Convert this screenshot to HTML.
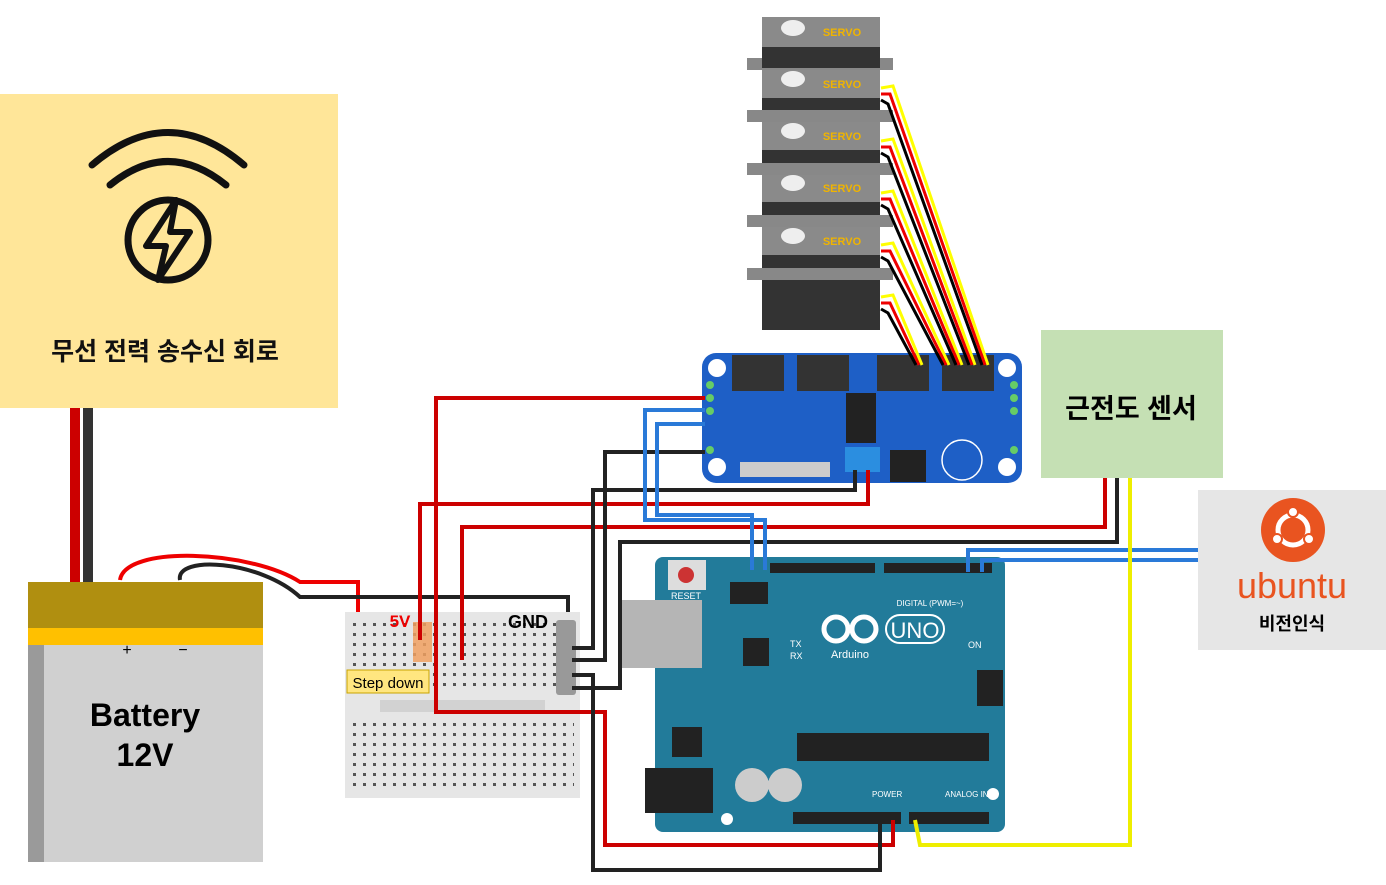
<!DOCTYPE html>
<html><head><meta charset="utf-8"><style>
body{margin:0;background:#fff;width:1386px;height:880px;overflow:hidden}
svg text{font-family:"Liberation Sans","Noto Sans CJK KR",sans-serif}
</style></head><body>
<svg width="1386" height="880" xmlns="http://www.w3.org/2000/svg">
<defs>
<pattern id="holes" width="10" height="10" patternUnits="userSpaceOnUse"><rect x="3" y="3" width="3" height="3" fill="#555"/></pattern>
</defs>
<!-- wireless box -->
<rect x="0" y="94" width="338" height="314" fill="#FFE699"/>
<g fill="none" stroke="#111" stroke-width="7" stroke-linecap="round">
<path d="M92,165 Q168,100 244,165"/>
<path d="M110,185 Q168,138 226,185"/>
<circle cx="168" cy="240" r="40"/>
</g>
<path d="M176,200 L146,246 L166,246 L158,280 L190,232 L170,232 Z" fill="none" stroke="#111" stroke-width="6" stroke-linejoin="round"/>
<text x="165" y="360" font-size="25" font-weight="bold" text-anchor="middle" fill="#111">무선 전력 송수신 회로</text>
<!-- wires from box to battery -->
<rect x="70" y="408" width="10" height="175" fill="#c00"/>
<rect x="83" y="408" width="10" height="175" fill="#333"/>
<!-- battery -->
<rect x="28" y="582" width="235" height="280" fill="#d0d0d0"/>
<rect x="28" y="582" width="16" height="280" fill="#9a9a9a"/>
<rect x="28" y="582" width="235" height="46" fill="#b08f10"/>
<rect x="28" y="628" width="235" height="17" fill="#ffc000"/>
<text x="127" y="655" font-size="16" text-anchor="middle">+</text>
<text x="183" y="655" font-size="16" text-anchor="middle">−</text>
<text x="145" y="726" font-size="32" font-weight="bold" text-anchor="middle">Battery</text>
<text x="145" y="766" font-size="32" font-weight="bold" text-anchor="middle">12V</text>
<!-- battery wires -->
<path d="M120,580 C125,545 250,550 300,582 L358,582 L358,622" fill="none" stroke="#e00" stroke-width="4"/>
<path d="M180,580 C175,555 260,560 300,597 L568,597 L568,625" fill="none" stroke="#222" stroke-width="4"/>
<!-- breadboard -->
<rect x="345" y="612" width="235" height="186" fill="#e6e6e6"/>
<rect x="352" y="620" width="222" height="72" fill="url(#holes)"/>
<rect x="352" y="718" width="222" height="72" fill="url(#holes)"/>
<rect x="380" y="700" width="165" height="12" fill="#d2d2d2"/>
<rect x="556" y="620" width="20" height="75" fill="#999" rx="3"/>
<text x="400" y="627" font-size="17" font-weight="bold" fill="#e00" text-anchor="middle">5V</text>
<text x="528" y="628" font-size="18" font-weight="bold" text-anchor="middle">GND</text>
<rect x="413" y="622" width="19" height="40" fill="#f0a060" opacity="0.85"/>
<rect x="347" y="670" width="82" height="23" fill="#ffe680" stroke="#c9a400"/>
<text x="388" y="688" font-size="15" text-anchor="middle">Step down</text>
<!-- Arduino -->
<rect x="655" y="557" width="350" height="275" rx="8" fill="#227b9a"/>
<rect x="622" y="600" width="80" height="68" fill="#b5b5b5"/>
<rect x="645" y="768" width="68" height="45" fill="#222"/>
<circle cx="752" cy="785" r="17" fill="#ccc"/><circle cx="785" cy="785" r="17" fill="#ccc"/>
<rect x="797" y="733" width="192" height="28" fill="#222"/>
<rect x="743" y="638" width="26" height="28" fill="#222"/>
<rect x="672" y="727" width="30" height="30" fill="#222"/>
<rect x="770" y="563" width="105" height="10" fill="#222"/>
<rect x="884" y="563" width="108" height="10" fill="#222"/>
<rect x="793" y="812" width="108" height="12" fill="#222"/>
<rect x="909" y="812" width="80" height="12" fill="#222"/>
<rect x="730" y="582" width="38" height="22" fill="#222"/>
<rect x="977" y="670" width="26" height="36" fill="#222"/>
<rect x="668" y="560" width="38" height="30" fill="#ddd"/><circle cx="686" cy="575" r="8" fill="#c33"/>
<text x="686" y="599" font-size="9" fill="#fff" text-anchor="middle">RESET</text>
<text x="930" y="606" font-size="8" fill="#fff" text-anchor="middle">DIGITAL (PWM=~)</text>
<text x="790" y="647" font-size="9" fill="#fff">TX</text><text x="790" y="659" font-size="9" fill="#fff">RX</text>
<g fill="none" stroke="#fff" stroke-width="5"><circle cx="836" cy="629" r="12"/><circle cx="864" cy="629" r="12"/></g>
<rect x="886" y="615" width="58" height="28" rx="14" fill="none" stroke="#fff" stroke-width="2"/>
<text x="915" y="638" font-size="22" fill="#fff" text-anchor="middle">UNO</text>
<text x="850" y="658" font-size="11" fill="#fff" text-anchor="middle">Arduino</text>
<text x="968" y="648" font-size="9" fill="#fff">ON</text>
<text x="945" y="797" font-size="8" fill="#fff">ANALOG IN</text>
<text x="872" y="797" font-size="8" fill="#fff">POWER</text>
<circle cx="727" cy="819" r="6" fill="#fff"/><circle cx="993" cy="794" r="6" fill="#fff"/>
<!-- PCA board -->
<rect x="702" y="353" width="320" height="130" rx="14" fill="#1e5fc6"/>
<g fill="#333"><rect x="732" y="355" width="52" height="36"/><rect x="797" y="355" width="52" height="36"/><rect x="877" y="355" width="52" height="36"/><rect x="942" y="355" width="52" height="36"/></g>
<g fill="#fff"><circle cx="717" cy="368" r="9"/><circle cx="1007" cy="368" r="9"/><circle cx="717" cy="467" r="9"/><circle cx="1007" cy="467" r="9"/></g>
<rect x="846" y="393" width="30" height="50" fill="#222"/>
<rect x="845" y="447" width="35" height="25" fill="#2b8ee0"/>
<rect x="890" y="450" width="36" height="32" fill="#222"/>
<circle cx="962" cy="460" r="20" fill="none" stroke="#fff" stroke-width="1.5"/>
<g fill="#ccc"><rect x="740" y="462" width="90" height="15"/></g>
<g fill="#6c6"><circle cx="710" cy="385" r="4"/><circle cx="710" cy="398" r="4"/><circle cx="710" cy="411" r="4"/><circle cx="710" cy="450" r="4"/><circle cx="1014" cy="385" r="4"/><circle cx="1014" cy="398" r="4"/><circle cx="1014" cy="411" r="4"/><circle cx="1014" cy="450" r="4"/></g>
<!-- servos -->
<g>
<rect x="762" y="225" width="118" height="105" fill="#333"/>
<rect x="747" y="268" width="146" height="12" fill="#888"/>
<rect x="762" y="225" width="118" height="30" fill="#8a8a8a"/>
<text x="842" y="245" font-size="11" font-weight="bold" fill="#f0b400" text-anchor="middle">SERVO</text>
<ellipse cx="793" cy="236" rx="12" ry="8" fill="#eee"/>
</g>
<g id="s">
</g>
<g>
<rect x="762" y="172" width="118" height="53" fill="#333"/><rect x="747" y="215" width="146" height="12" fill="#888"/>
<rect x="762" y="172" width="118" height="30" fill="#8a8a8a"/><text x="842" y="192" font-size="11" font-weight="bold" fill="#f0b400" text-anchor="middle">SERVO</text><ellipse cx="793" cy="183" rx="12" ry="8" fill="#eee"/>
<rect x="762" y="120" width="118" height="52" fill="#333"/><rect x="747" y="163" width="146" height="12" fill="#888"/>
<rect x="762" y="120" width="118" height="30" fill="#8a8a8a"/><text x="842" y="140" font-size="11" font-weight="bold" fill="#f0b400" text-anchor="middle">SERVO</text><ellipse cx="793" cy="131" rx="12" ry="8" fill="#eee"/>
<rect x="762" y="68" width="118" height="52" fill="#333"/><rect x="747" y="110" width="146" height="12" fill="#888"/>
<rect x="762" y="68" width="118" height="30" fill="#8a8a8a"/><text x="842" y="88" font-size="11" font-weight="bold" fill="#f0b400" text-anchor="middle">SERVO</text><ellipse cx="793" cy="79" rx="12" ry="8" fill="#eee"/>
<rect x="747" y="58" width="146" height="12" fill="#888"/>
<rect x="762" y="17" width="118" height="51" fill="#333"/>
<rect x="762" y="17" width="118" height="30" fill="#8a8a8a"/><text x="842" y="36" font-size="11" font-weight="bold" fill="#f0b400" text-anchor="middle">SERVO</text><ellipse cx="793" cy="28" rx="12" ry="8" fill="#eee"/>
</g>
<!-- servo wires -->
<g fill="none" stroke-width="3">
<path d="M881,88 L893,86 L988,365" stroke="#ff0"/><path d="M881,94 L890,94 L985,365" stroke="#e00"/><path d="M881,100 L888,104 L982,365" stroke="#000"/>
<path d="M881,141 L893,139 L975,365" stroke="#ff0"/><path d="M881,147 L890,147 L972,365" stroke="#e00"/><path d="M881,153 L888,157 L969,365" stroke="#000"/>
<path d="M881,193 L893,191 L962,365" stroke="#ff0"/><path d="M881,199 L890,199 L959,365" stroke="#e00"/><path d="M881,205 L888,209 L956,365" stroke="#000"/>
<path d="M881,245 L893,243 L949,365" stroke="#ff0"/><path d="M881,251 L890,251 L946,365" stroke="#e00"/><path d="M881,257 L888,261 L943,365" stroke="#000"/>
<path d="M881,297 L893,295 L922,365" stroke="#ff0"/><path d="M881,303 L890,303 L919,365" stroke="#e00"/><path d="M881,309 L888,313 L916,365" stroke="#000"/>
</g>
<!-- main wires -->
<g fill="none" stroke-width="4">
<path d="M705,398 L436,398 L436,712 L605,712 L605,845 L893,845 L893,820" stroke="#c00"/>
<path d="M420,640 L420,504 L868,504 L868,470" stroke="#c00"/>
<path d="M462,660 L462,527 L1105,527 L1105,478" stroke="#c00"/>
<path d="M705,452 L605,452 L605,660 L572,660" stroke="#222"/>
<path d="M572,648 L593,648 L593,490 L855,490 L855,470" stroke="#222"/>
<path d="M572,688 L620,688 L620,542 L1117,542 L1117,478" stroke="#222"/>
<path d="M572,675 L593,675 L593,870 L880,870 L880,820" stroke="#222"/>
<path d="M705,410 L645,410 L645,520 L765,520 L765,570" stroke="#2a7ad8"/>
<path d="M705,424 L657,424 L657,515 L752,515 L752,570" stroke="#2a7ad8"/>
<path d="M968,572 L968,550 L1198,550" stroke="#2a7ad8"/>
<path d="M982,572 L982,560 L1198,560" stroke="#2a7ad8"/>
<path d="M1130,478 L1130,845 L920,845 L915,820" stroke="#ee0"/>
</g>
<!-- sensor box -->
<rect x="1041" y="330" width="182" height="148" fill="#C5E0B4"/>
<text x="1131" y="418" font-size="27" font-weight="bold" text-anchor="middle">근전도 센서</text>
<!-- ubuntu -->
<rect x="1198" y="490" width="188" height="160" fill="#e6e6e6"/>
<circle cx="1293" cy="530" r="32" fill="#e95420"/>
<circle cx="1293" cy="530" r="15" fill="none" stroke="#fff" stroke-width="5"/>
<g fill="#fff" stroke="#e95420" stroke-width="2"><circle cx="1293" cy="512" r="5"/><circle cx="1277" cy="539" r="5"/><circle cx="1309" cy="539" r="5"/></g>
<text x="1292" y="598" font-size="36" fill="#e95420" text-anchor="middle">ubuntu</text>
<text x="1292" y="630" font-size="18" font-weight="bold" text-anchor="middle">비전인식</text>
</svg>
</body></html>
